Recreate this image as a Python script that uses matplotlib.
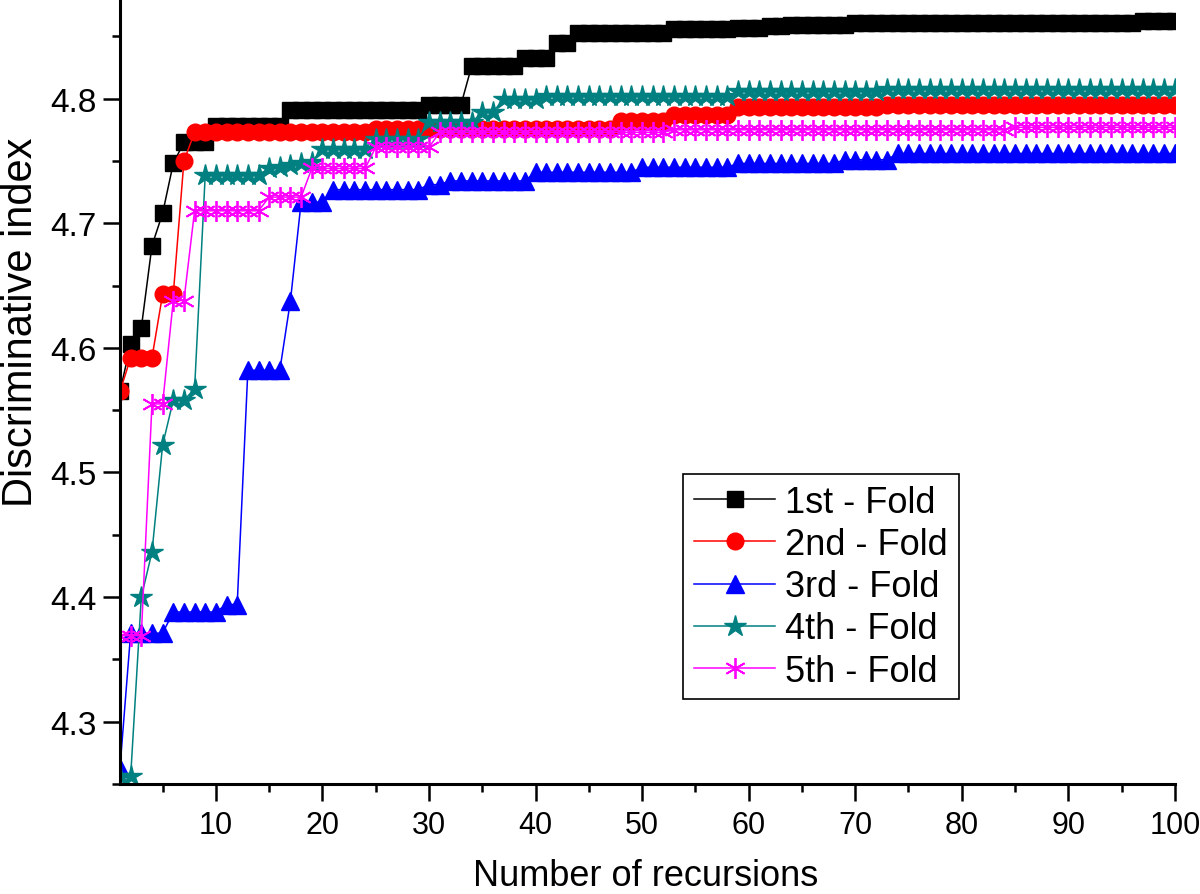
import matplotlib
matplotlib.use('agg')
import matplotlib.pyplot as plt
from matplotlib.ticker import MultipleLocator
import numpy as np

plt.rcParams['font.family'] = ['Liberation Sans', 'DejaVu Sans']

recursions = np.arange(1, 101)

fold1 = [4.565, 4.603, 4.616, 4.682, 4.708, 4.748, 4.765, 4.765, 4.765, 4.778,
         4.778, 4.778, 4.778, 4.778, 4.778, 4.778, 4.791, 4.791, 4.791, 4.791,
         4.791, 4.791, 4.791, 4.791, 4.791, 4.791, 4.791, 4.791, 4.791, 4.795,
         4.795, 4.795, 4.795, 4.826, 4.826, 4.826, 4.826, 4.826, 4.833, 4.833,
         4.833, 4.845, 4.845, 4.853, 4.853, 4.853, 4.853, 4.853, 4.853, 4.853,
         4.853, 4.853, 4.856, 4.856, 4.856, 4.856, 4.856, 4.856, 4.857, 4.857,
         4.857, 4.858, 4.858, 4.859, 4.859, 4.859, 4.859, 4.859, 4.859, 4.861,
         4.861, 4.861, 4.861, 4.861, 4.861, 4.861, 4.861, 4.861, 4.861, 4.861,
         4.861, 4.861, 4.861, 4.861, 4.861, 4.861, 4.861, 4.861, 4.861, 4.861,
         4.861, 4.861, 4.861, 4.861, 4.861, 4.861, 4.862, 4.862, 4.862, 4.862]

fold2 = [4.565, 4.592, 4.592, 4.592, 4.643, 4.643, 4.750, 4.773, 4.773, 4.773,
         4.773, 4.773, 4.773, 4.773, 4.773, 4.773, 4.773, 4.773, 4.773, 4.773,
         4.773, 4.773, 4.773, 4.773, 4.776, 4.776, 4.776, 4.776, 4.776, 4.776,
         4.776, 4.776, 4.776, 4.776, 4.776, 4.776, 4.776, 4.776, 4.776, 4.776,
         4.776, 4.776, 4.776, 4.776, 4.776, 4.776, 4.776, 4.782, 4.782, 4.782,
         4.782, 4.782, 4.787, 4.787, 4.787, 4.787, 4.787, 4.787, 4.793, 4.793,
         4.793, 4.793, 4.793, 4.793, 4.793, 4.793, 4.793, 4.793, 4.793, 4.793,
         4.793, 4.793, 4.795, 4.795, 4.795, 4.795, 4.795, 4.795, 4.795, 4.795,
         4.795, 4.795, 4.795, 4.795, 4.795, 4.795, 4.795, 4.795, 4.795, 4.795,
         4.795, 4.795, 4.795, 4.795, 4.795, 4.795, 4.795, 4.795, 4.795, 4.795]

fold3 = [4.263, 4.371, 4.371, 4.371, 4.371, 4.388, 4.388, 4.388, 4.388, 4.388,
         4.394, 4.394, 4.582, 4.582, 4.582, 4.582, 4.638, 4.717, 4.717, 4.717,
         4.727, 4.727, 4.727, 4.727, 4.727, 4.727, 4.727, 4.727, 4.727, 4.731,
         4.731, 4.734, 4.734, 4.734, 4.734, 4.734, 4.734, 4.734, 4.734, 4.741,
         4.741, 4.741, 4.741, 4.741, 4.741, 4.741, 4.741, 4.741, 4.741, 4.745,
         4.745, 4.745, 4.745, 4.745, 4.745, 4.745, 4.745, 4.745, 4.748, 4.748,
         4.748, 4.748, 4.748, 4.748, 4.748, 4.748, 4.748, 4.748, 4.751, 4.751,
         4.751, 4.751, 4.751, 4.756, 4.756, 4.756, 4.756, 4.756, 4.756, 4.756,
         4.756, 4.756, 4.756, 4.756, 4.756, 4.756, 4.756, 4.756, 4.756, 4.756,
         4.756, 4.756, 4.756, 4.756, 4.756, 4.756, 4.756, 4.756, 4.756, 4.756]

fold4 = [4.256, 4.256, 4.400, 4.436, 4.522, 4.558, 4.558, 4.567, 4.739, 4.739,
         4.739, 4.739, 4.739, 4.739, 4.744, 4.745, 4.747, 4.748, 4.749, 4.760,
         4.760, 4.760, 4.760, 4.760, 4.768, 4.768, 4.768, 4.768, 4.768, 4.781,
         4.781, 4.781, 4.781, 4.781, 4.789, 4.789, 4.800, 4.800, 4.800, 4.800,
         4.802, 4.802, 4.802, 4.802, 4.802, 4.802, 4.802, 4.802, 4.802, 4.802,
         4.802, 4.802, 4.802, 4.802, 4.802, 4.802, 4.802, 4.802, 4.806, 4.806,
         4.806, 4.806, 4.806, 4.806, 4.806, 4.806, 4.806, 4.806, 4.806, 4.806,
         4.806, 4.806, 4.808, 4.808, 4.808, 4.808, 4.808, 4.808, 4.808, 4.808,
         4.808, 4.808, 4.808, 4.808, 4.808, 4.808, 4.808, 4.808, 4.808, 4.808,
         4.808, 4.808, 4.808, 4.808, 4.808, 4.808, 4.808, 4.808, 4.808, 4.808]

fold5 = [4.369, 4.369, 4.369, 4.555, 4.555, 4.638, 4.638, 4.710, 4.710, 4.710,
         4.710, 4.710, 4.710, 4.710, 4.721, 4.721, 4.721, 4.721, 4.744, 4.744,
         4.744, 4.744, 4.744, 4.744, 4.761, 4.761, 4.761, 4.761, 4.761, 4.761,
         4.773, 4.773, 4.773, 4.773, 4.773, 4.773, 4.773, 4.773, 4.773, 4.773,
         4.773, 4.773, 4.773, 4.773, 4.773, 4.773, 4.773, 4.773, 4.773, 4.773,
         4.773, 4.773, 4.775, 4.775, 4.775, 4.775, 4.775, 4.775, 4.775, 4.775,
         4.775, 4.775, 4.775, 4.775, 4.775, 4.775, 4.775, 4.775, 4.775, 4.775,
         4.775, 4.775, 4.775, 4.775, 4.775, 4.775, 4.775, 4.775, 4.775, 4.775,
         4.775, 4.775, 4.775, 4.775, 4.777, 4.777, 4.777, 4.777, 4.777, 4.777,
         4.777, 4.777, 4.777, 4.777, 4.777, 4.777, 4.777, 4.777, 4.777, 4.777]

labels = ['1st - Fold', '2nd - Fold', '3rd - Fold', '4th - Fold', '5th - Fold']

fig = plt.figure(figsize=(12, 8.95), dpi=100)
ax = fig.add_axes([0.1, 0.123, 0.879, 0.877])

ax.plot(recursions, fold1, '-s', color='black', lw=1.1, ms=11, label=labels[0])
ax.plot(recursions, fold2, '-o', color='#FF0000', lw=1.1, ms=12, label=labels[1])
ax.plot(recursions, fold3, '-^', color='#0000FF', lw=1.1, ms=13, label=labels[2])
ax.plot(recursions, fold4, '-*', color='#008080', lw=1.1, ms=16, label=labels[3])
ax.plot(recursions, fold5, '-', marker=(6, 2, 0), color='#FF00FF', lw=1.1, ms=15,
        mew=1.3, label=labels[4])

ax.set_xlim(1, 100)
ax.set_ylim(4.25, 4.88)
ax.set_xticks(np.arange(10, 101, 10))
ax.xaxis.set_minor_locator(MultipleLocator(5))
ax.set_yticks([4.3, 4.4, 4.5, 4.6, 4.7, 4.8])
ax.yaxis.set_minor_locator(MultipleLocator(0.05))

for side in ['top', 'right']:
    ax.spines[side].set_visible(False)
for side in ['left', 'bottom']:
    ax.spines[side].set_linewidth(2.2)

ax.tick_params(which='major', direction='out', length=12, width=1.8)
ax.tick_params(which='minor', direction='out', length=6, width=1.8)
ax.tick_params(axis='y', pad=5, labelsize=24)
ax.tick_params(axis='x', pad=7, labelsize=22)

ax.set_xlabel('Number of recursions', fontsize=26)
ax.xaxis.set_label_coords(0.4986, -0.094)
ax.set_ylabel('Discriminative index', fontsize=30)
ax.yaxis.set_label_coords(-0.075, 0.59)

leg = ax.legend(loc='upper left', bbox_to_anchor=(0.534, 0.395), fontsize=26,
                frameon=True, fancybox=False, edgecolor='black', framealpha=1,
                handlelength=2.25, handletextpad=0.27, labelspacing=0.2,
                borderpad=0.3, borderaxespad=0)
leg.get_frame().set_linewidth(1.2)

plt.savefig('out.png', dpi=100)
plt.close(fig)
